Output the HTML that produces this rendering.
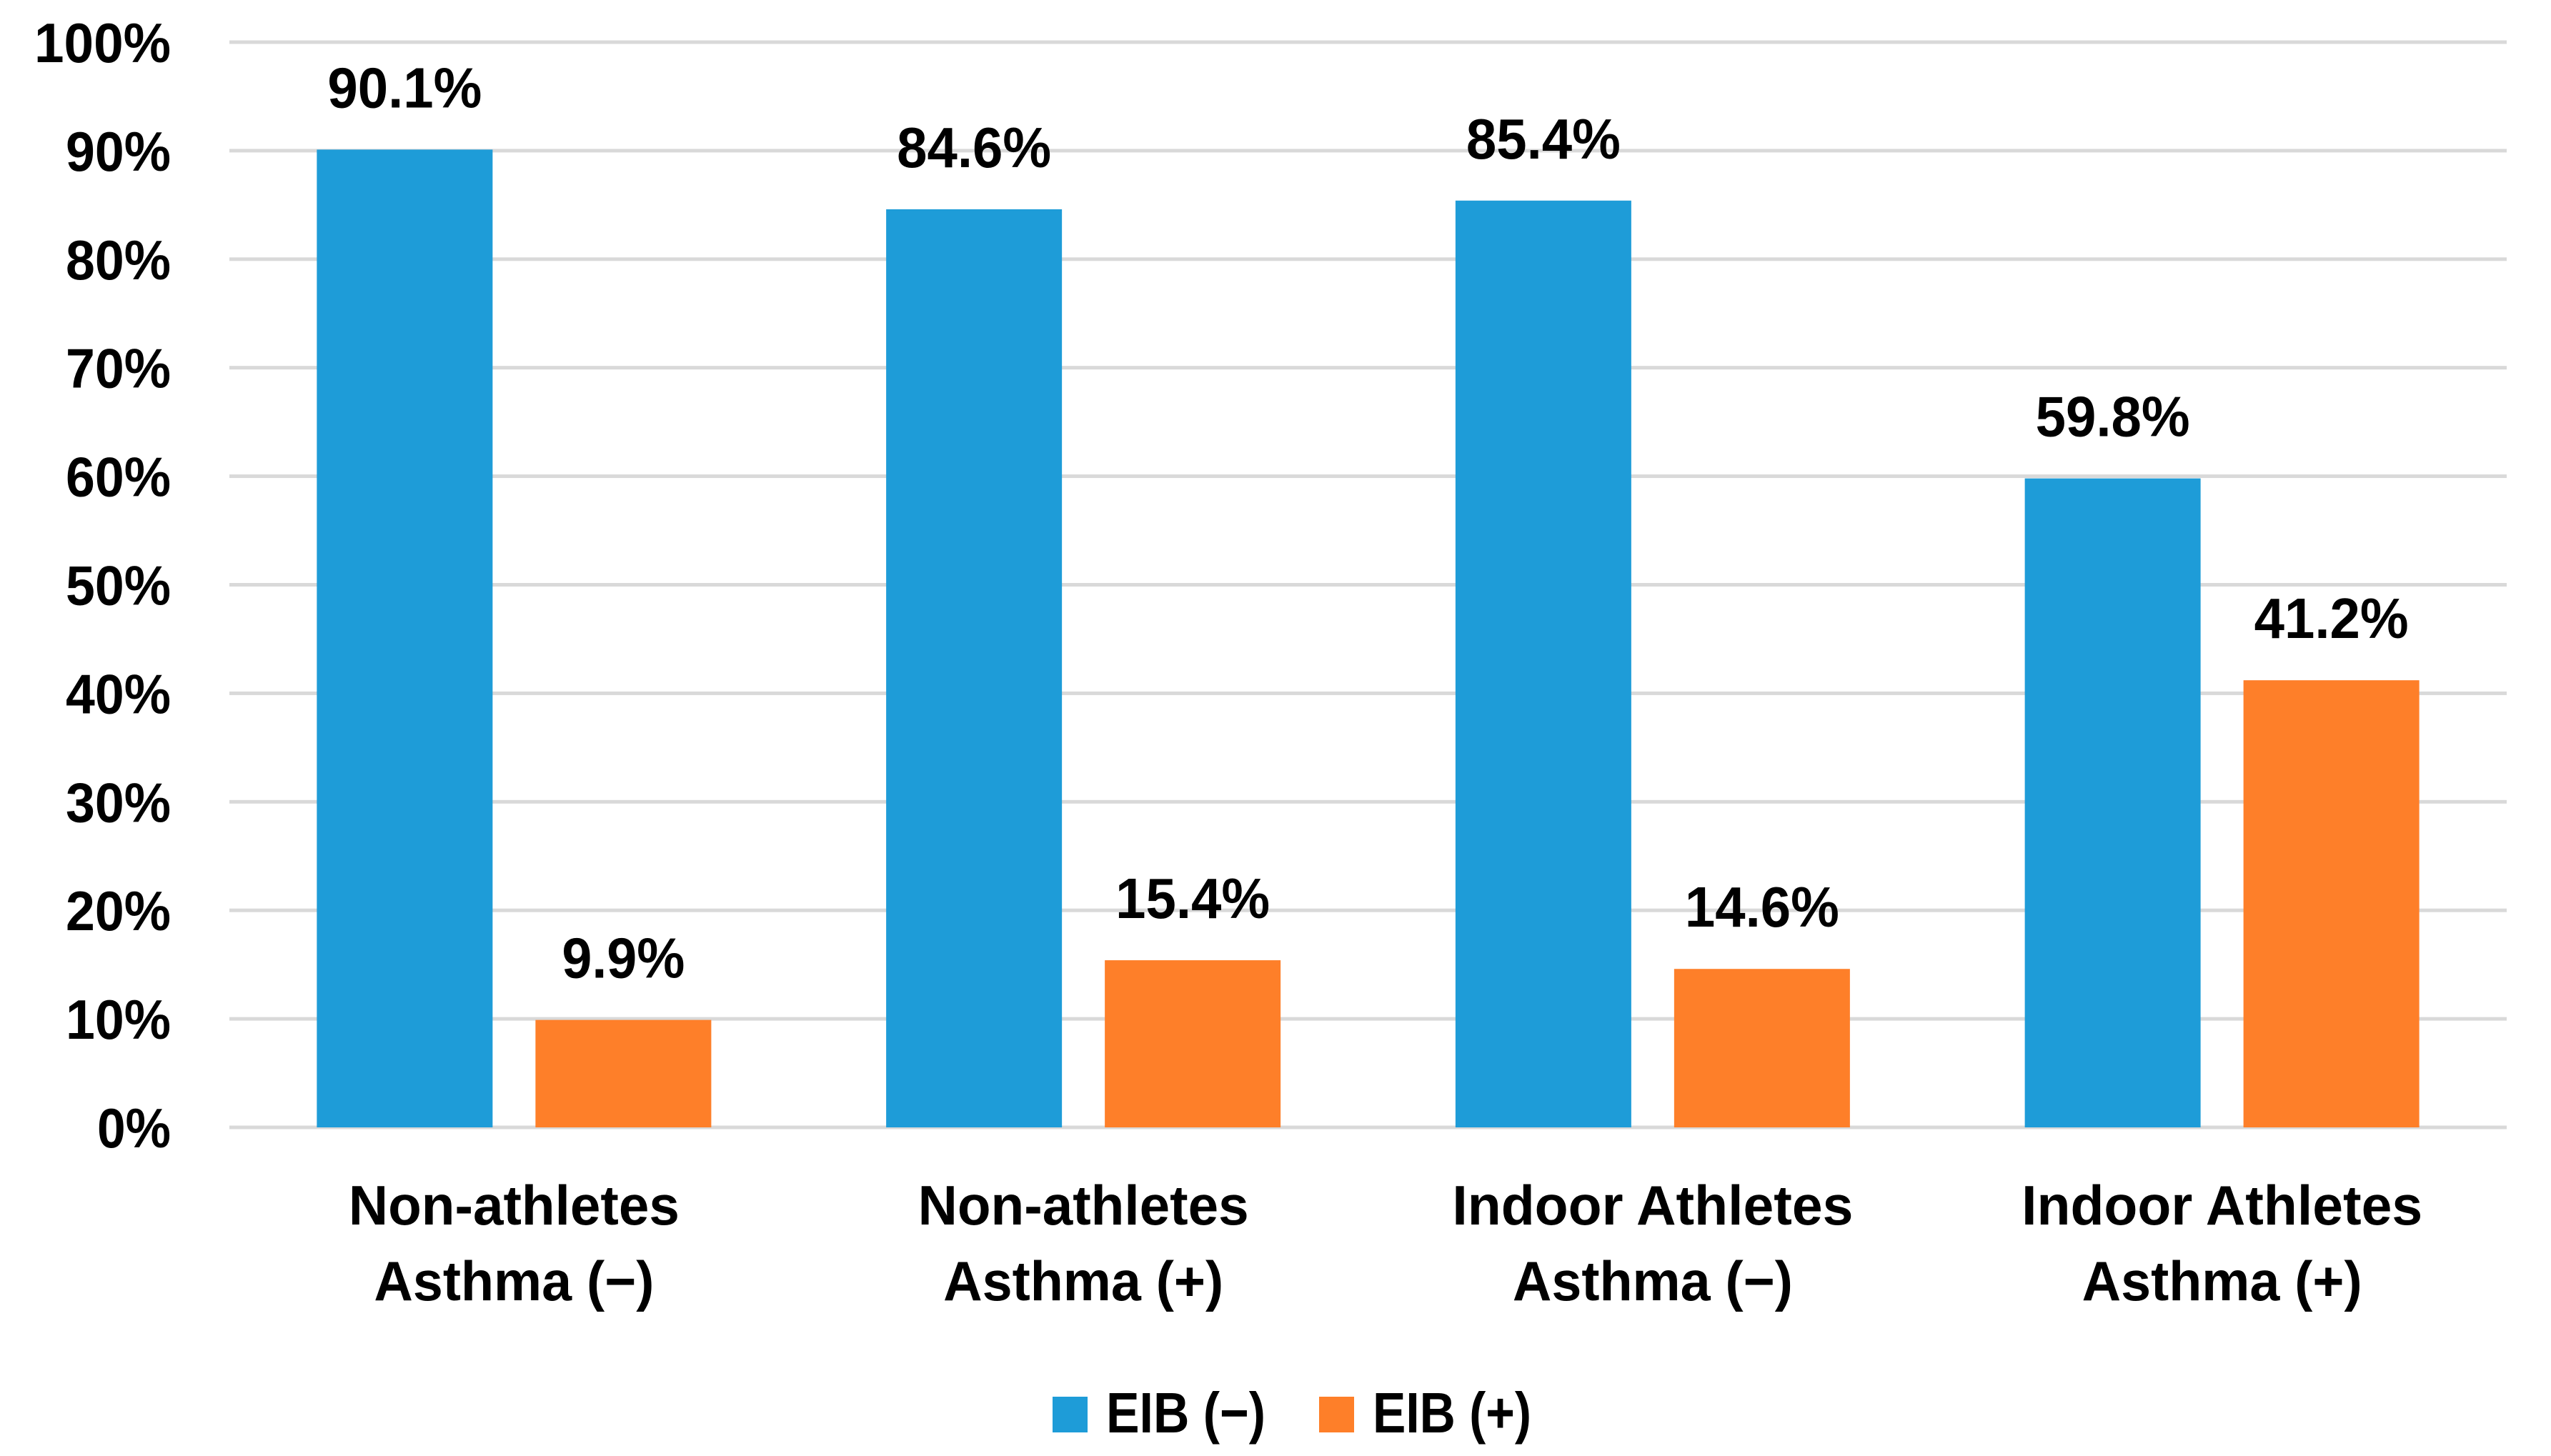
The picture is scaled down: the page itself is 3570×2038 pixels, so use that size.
<!DOCTYPE html>
<html><head><meta charset="utf-8"><style>
html,body{margin:0;padding:0;background:#fff;}
svg{display:block;}
text{font-family:"Liberation Sans",sans-serif;font-weight:bold;fill:#000;}
</style></head><body>
<svg id="chart" width="3570" height="2038" viewBox="0 0 3570 2038" xmlns="http://www.w3.org/2000/svg">
<g id="grid"></g>
<g id="yaxis"></g>
<g id="bars"></g>
<g id="labels"></g>
<g id="xaxis"></g>
<g id="legend">
  <rect x="1473" y="1955" width="49" height="50" fill="#1e9cd8"/>
  <text x="1548" y="2005" font-size="80" textLength="223" lengthAdjust="spacingAndGlyphs">EIB (−)</text>
  <rect x="1846" y="1955" width="49" height="50" fill="#fe7f29"/>
  <text x="1921" y="2005" font-size="80" textLength="222" lengthAdjust="spacingAndGlyphs">EIB (+)</text>
</g>
</svg>
<script>
const categories = [["Non-athletes","Asthma (−)"],["Non-athletes","Asthma (+)"],["Indoor Athletes","Asthma (−)"],["Indoor Athletes","Asthma (+)"]];
const eibNegative = [90.1, 84.6, 85.4, 59.8];
const eibPositive = [9.9, 15.4, 14.6, 41.2];
const yTicks = [0,10,20,30,40,50,60,70,80,90,100];

const NS="http://www.w3.org/2000/svg";
const plotL=321, plotR=3508, y0=1578, y100=59;
const groupW=(plotR-plotL)/categories.length;
const barW=246, gap=60;
function yScale(v){return y0-(v/100)*(y0-y100);}
function groupCenter(i){return plotL+groupW*(i+0.5);}
function mk(tag,attrs,parent){const e=document.createElementNS(NS,tag);for(const k in attrs)e.setAttribute(k,attrs[k]);parent.appendChild(e);return e;}
function estW(s,big){let w=0;for(const c of s){if(c==='%')w+=big?64:59;else if(c==='.')w+=20;else w+=44;}return w;}

const grid=document.getElementById('grid'),yaxis=document.getElementById('yaxis');
yTicks.forEach(t=>{
  const l=mk('rect',{x:plotL,y:yScale(t)-2.5,width:plotR-plotL,height:5,fill:'#d9d9d9'},grid);
  
  
  const s=t+'%';
  const tx=mk('text',{x:239,y:yScale(t)+28,'font-size':78,'text-anchor':'end',textLength:estW(s,false),lengthAdjust:'spacingAndGlyphs'},yaxis);
  tx.textContent=s;
  
  
});

const bars=document.getElementById('bars'),labels=document.getElementById('labels'),xaxis=document.getElementById('xaxis');
const series=[{vals:eibNegative,color:'#1e9cd8',off:-gap/2-barW,name:'eib-negative'},{vals:eibPositive,color:'#fe7f29',off:gap/2,name:'eib-positive'}];
series.forEach(se=>{
  se.vals.forEach((v,i)=>{
    const x=groupCenter(i)+se.off;
    const r=mk('rect',{x:x,y:yScale(v),width:barW,height:y0-yScale(v),fill:se.color},bars);
    
    
    const s=v.toFixed(1)+'%';
    const t=mk('text',{x:x+barW/2,y:yScale(v)-59,'font-size':80,'text-anchor':'middle',textLength:estW(s,true),lengthAdjust:'spacingAndGlyphs'},labels);
    t.textContent=s;
    
    
  });
});
categories.forEach((c,i)=>{
  const cx=groupCenter(i);
  const w1=c[0].startsWith('Indoor')?561:463;
  const t1=mk('text',{x:cx,y:1714,'font-size':78,'text-anchor':'middle',textLength:w1,lengthAdjust:'spacingAndGlyphs'},xaxis);
  t1.textContent=c[0];
  
  
  const t2=mk('text',{x:cx,y:1820,'font-size':78,'text-anchor':'middle',textLength:392,lengthAdjust:'spacingAndGlyphs'},xaxis);
  t2.textContent=c[1];
  
  
});
</script>
</body></html>
